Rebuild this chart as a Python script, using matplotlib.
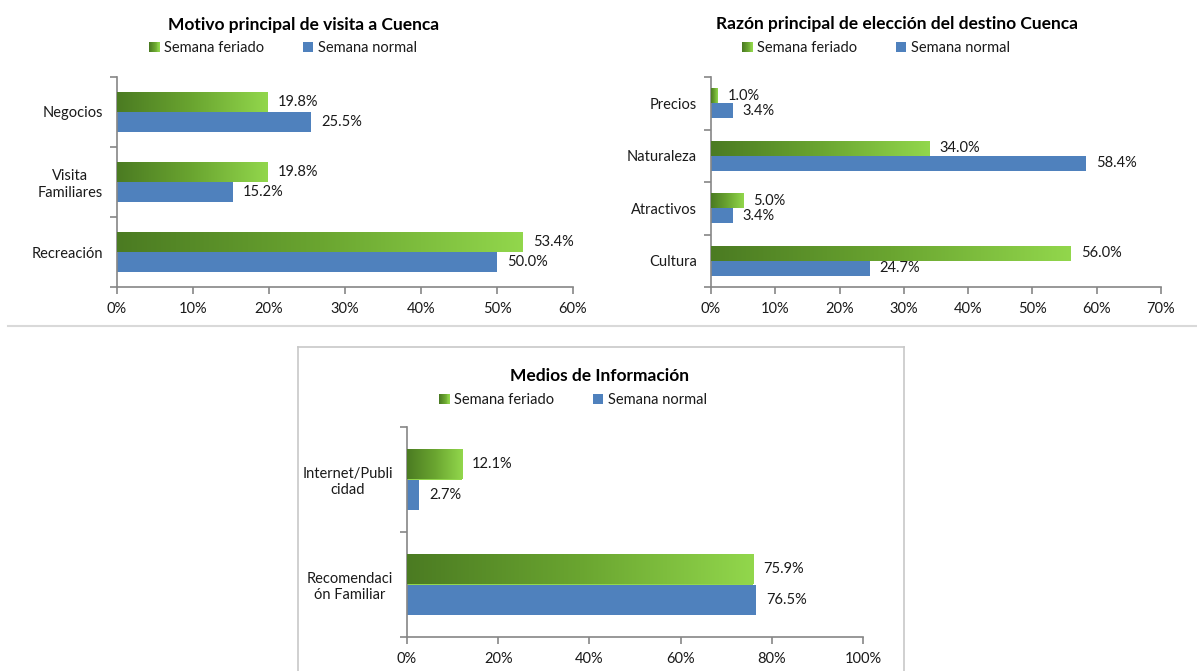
import matplotlib
matplotlib.use("Agg")
import matplotlib.pyplot as plt
import numpy as np
from matplotlib.colors import LinearSegmentedColormap
from matplotlib.patches import Rectangle, Patch
from matplotlib.lines import Line2D
from matplotlib.legend_handler import HandlerBase

plt.rcParams['font.family'] = ['Lato', 'DejaVu Sans']

# ---- data ----
series_names = ["Semana feriado", "Semana normal"]

motivo_title = "Motivo principal de visita a Cuenca"
motivo_cats = ["Negocios", "Visita\nFamiliares", "Recreación"]
motivo_feriado = [19.8, 19.8, 53.4]
motivo_normal = [25.5, 15.2, 50.0]
motivo_ticks = [0, 10, 20, 30, 40, 50, 60]

razon_title = "Razón principal de elección del destino Cuenca"
razon_cats = ["Precios", "Naturaleza", "Atractivos", "Cultura"]
razon_feriado = [1.0, 34.0, 5.0, 56.0]
razon_normal = [3.4, 58.4, 3.4, 24.7]
razon_ticks = [0, 10, 20, 30, 40, 50, 60, 70]

medios_title = "Medios de Información"
medios_cats = ["Internet/Publi\ncidad", "Recomendaci\nón Familiar"]
medios_feriado = [12.1, 75.9]
medios_normal = [2.7, 76.5]
medios_ticks = [0, 20, 40, 60, 80, 100]

# ---- style ----
W, H = 1197, 671
GREEN_DARK = "#4b7b22"
GREEN_LIGHT = "#92d74c"
BLUE = "#4f81bd"
AXIS_GRAY = "#868686"
TEXT = "#1a1a1a"
green_cmap = LinearSegmentedColormap.from_list("feriado", [GREEN_DARK, "#6aa530", GREEN_LIGHT])

fig = plt.figure(figsize=(W / 100, H / 100), dpi=100)
fig.patch.set_facecolor("white")


def px_axes(x0, x1, y_top, y_bot):
    return fig.add_axes([x0 / W, 1 - y_bot / H, (x1 - x0) / W, (y_bot - y_top) / H])


class GradientHandler(HandlerBase):
    def create_artists(self, legend, orig_handle, xdescent, ydescent,
                       width, height, fontsize, trans):
        side = min(width, height)
        x0 = -xdescent + width - side
        y0 = -ydescent
        n = 12
        arts = []
        for k in range(n):
            r = Rectangle((x0 + k * side / n, y0), side / n + 0.2, side,
                          facecolor=green_cmap(k / (n - 1)), edgecolor="none",
                          transform=trans)
            arts.append(r)
        return arts


class SquareHandler(HandlerBase):
    def create_artists(self, legend, orig_handle, xdescent, ydescent,
                       width, height, fontsize, trans):
        side = min(width, height)
        r = Rectangle((-xdescent + width - side, -ydescent), side, side,
                      facecolor=orig_handle.get_facecolor(), edgecolor="none",
                      transform=trans)
        return [r]


def draw_chart(ax, cats, feriado, normal, ticks, xmax):
    n = len(cats)
    pos = np.arange(n)
    h = 0.286
    gbars = ax.barh(pos - h / 2, feriado, height=h, color=GREEN_LIGHT,
                    edgecolor="none", zorder=2)
    ax.barh(pos + h / 2, normal, height=h, color=BLUE, edgecolor="none", zorder=2)
    grad = np.linspace(0, 1, 256).reshape(1, -1)
    for bar in gbars:
        x0, y0 = bar.get_x(), bar.get_y()
        w, hh = bar.get_width(), bar.get_height()
        im = ax.imshow(grad, extent=(x0, x0 + w, y0, y0 + hh), cmap=green_cmap,
                       aspect="auto", zorder=3, interpolation="bilinear")
        im.set_clip_path(bar)
    off = xmax * 0.022
    for i in range(n):
        ax.text(feriado[i] + off, pos[i] - h / 2, f"{feriado[i]:.1f}%",
                va="center", ha="left", fontsize=10.5, color=TEXT)
        ax.text(normal[i] + off, pos[i] + h / 2, f"{normal[i]:.1f}%",
                va="center", ha="left", fontsize=10.5, color=TEXT)
    ax.set_xlim(0, xmax)
    ax.set_ylim(n - 0.5, -0.5)
    ax.set_xticks(ticks)
    ax.set_xticklabels([f"{t}%" for t in ticks])
    ax.set_yticks(pos)
    ax.set_yticklabels(cats, multialignment="center")
    ax.set_yticks(np.arange(n + 1) - 0.5, minor=True)
    ax.tick_params(axis="y", which="major", length=0, pad=10, labelsize=10.5,
                   labelcolor=TEXT)
    ax.tick_params(axis="y", which="minor", length=5, direction="out",
                   color=AXIS_GRAY, width=1.2)
    ax.tick_params(axis="x", length=5, direction="out", color=AXIS_GRAY,
                   width=1.2, labelsize=10.5, labelcolor=TEXT, pad=6)
    for s in ("top", "right"):
        ax.spines[s].set_visible(False)
    for s in ("left", "bottom"):
        ax.spines[s].set_color(AXIS_GRAY)
        ax.spines[s].set_linewidth(1.2)
    ax.set_facecolor("none")


def add_legend(cx, cy):
    handles = [Patch(facecolor=GREEN_LIGHT), Patch(facecolor=BLUE)]
    fig.legend(handles, series_names, loc="center",
               bbox_to_anchor=(cx / W, 1 - cy / H), ncol=2, frameon=False,
               fontsize=10.5, handler_map={handles[0]: GradientHandler(),
                                           handles[1]: SquareHandler()},
               handlelength=0.75, handleheight=0.75, handletextpad=0.3,
               columnspacing=2.6, labelcolor=TEXT)


# top-left chart
ax1 = px_axes(117, 573, 77, 287)
draw_chart(ax1, motivo_cats, motivo_feriado, motivo_normal, motivo_ticks, 60)
fig.text(304 / W, 1 - 25 / H, motivo_title, ha="center", va="center",
         fontsize=12.5, fontweight="bold", color="black")
add_legend(283, 48)

# top-right chart
ax2 = px_axes(711, 1161, 77, 287)
draw_chart(ax2, razon_cats, razon_feriado, razon_normal, razon_ticks, 70)
fig.text(897 / W, 1 - 24 / H, razon_title, ha="center", va="center",
         fontsize=12.5, fontweight="bold", color="black")
add_legend(876, 48)

# separator between rows
fig.add_artist(Line2D([8 / W, 1], [1 - 326 / H] * 2, color="#d9d9d9", lw=1.5))

# framed bottom chart
frame_kw = dict(color="#c8c8c8", lw=1.2)
fig.add_artist(Line2D([298 / W, 298 / W], [0, 1 - 347 / H], **frame_kw))
fig.add_artist(Line2D([904 / W, 904 / W], [0, 1 - 347 / H], **frame_kw))
fig.add_artist(Line2D([298 / W, 904 / W], [1 - 347 / H] * 2, **frame_kw))

ax3 = px_axes(407, 863, 427, 637)
draw_chart(ax3, medios_cats, medios_feriado, medios_normal, medios_ticks, 100)
fig.text(600 / W, 1 - 376 / H, medios_title, ha="center", va="center",
         fontsize=12.5, fontweight="bold", color="black")
add_legend(573, 400)

fig.savefig("out.png", dpi=100, facecolor="white")
